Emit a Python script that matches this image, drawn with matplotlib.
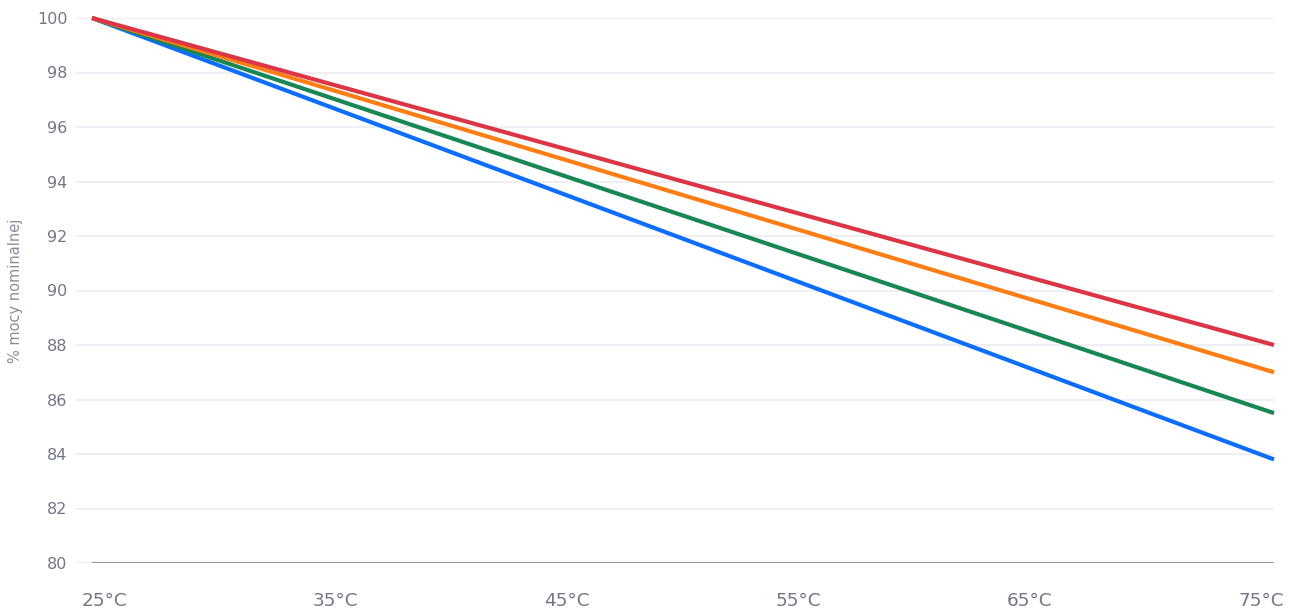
import matplotlib.pyplot as plt
import numpy as np

temps = [25, 35, 45, 55, 65, 75]
tick_labels = ['25°C', '35°C', '45°C', '55°C', '65°C', '75°C']

blue_vals = [100, 96.76, 93.52, 90.28, 87.04, 83.8]
green_vals = [100, 97.1, 94.2, 91.3, 88.4, 85.5]
orange_vals = [100, 97.4, 94.8, 92.2, 89.6, 87.0]
red_vals = [100, 97.6, 95.2, 92.8, 90.4, 88.0]

series = [
    (blue_vals, '#0d6efd'),
    (green_vals, '#198754'),
    (orange_vals, '#fd7e14'),
    (red_vals, '#dc3545'),
]

fig = plt.figure(figsize=(12.92, 6.13), dpi=100)
ax = fig.add_axes([76 / 1292, 1 - 563 / 613, (1274 - 76) / 1292, (563 - 18) / 613])

for vals, color in series:
    ax.plot(temps, vals, color=color, linewidth=3.0, solid_capstyle='butt', clip_on=False, zorder=3)

ax.set_xlim(24.32, 75)
ax.set_ylim(80, 100)

ax.set_yticks(np.arange(80, 101, 2))
ax.yaxis.grid(True, color='#ececf1', linewidth=1.2)
ax.set_axisbelow(True)
ax.hlines(80, temps[0], temps[-1], color='#9a9cab', linewidth=1.6, zorder=2)

# labels sit slightly inside the first/last data points
label_pos = np.linspace(25.51, 74.45, len(temps))
ax.set_xticks(label_pos)
ax.set_xticklabels(tick_labels)

ax.tick_params(axis='both', length=0, colors='#737687')
ax.tick_params(axis='y', pad=6, labelsize=11.5)
ax.tick_params(axis='x', pad=21, labelsize=13.3)

for s in ax.spines.values():
    s.set_visible(False)

ax.set_ylabel('% mocy nominalnej', color='#8a8c9c', fontsize=10.5)
ax.yaxis.set_label_coords(-0.044, 0.5)

fig.savefig('out.png', dpi=100)
